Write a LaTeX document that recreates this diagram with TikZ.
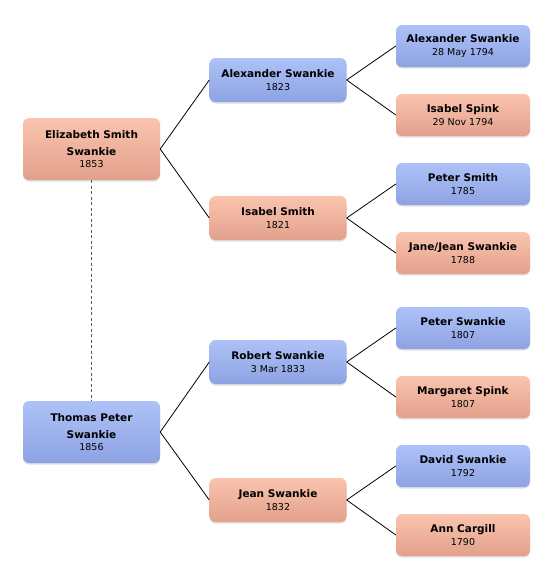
\documentclass[tikz,border=0pt]{standalone}
\usepackage{fontspec}
\setmainfont{DejaVu Sans}
\usepackage{tikz}
\usetikzlibrary{shadows}

\definecolor{maletop}{HTML}{AEC2F8}
\definecolor{malebot}{HTML}{8DA2E2}
\definecolor{femtop}{HTML}{FAC4AE}
\definecolor{fembot}{HTML}{E2A08C}

\tikzset{
  person/.style={rounded corners=6pt, minimum width=137pt, inner sep=1pt,
    align=center, font=\fontsize{10.5}{15}\selectfont,
    drop shadow={shadow xshift=0pt, shadow yshift=-1.5pt, opacity=0.25}},
  male/.style={person, top color=maletop, bottom color=malebot},
  female/.style={person, top color=femtop, bottom color=fembot},
  gen1/.style={minimum height=62pt},
  gen2/.style={minimum height=44pt},
  gen3/.style={minimum height=42pt, minimum width=134pt},
  link/.style={black, line width=0.8pt},
  couple/.style={gray!70!black, line width=0.9pt, dash pattern=on 3pt off 2.5pt}
}
\newcommand{\who}[2]{\textbf{#1}\\[-2.5pt]{\fontsize{9.5}{11}\selectfont #2}}

\begin{document}
\begin{tikzpicture}[x=1pt, y=-1pt]
    \useasboundingbox (0,0) rectangle (556,582);
    % first generation
    \node[female, gen1] (eliz) at (91.5,149) {\textbf{Elizabeth Smith}\\[1.5pt]\textbf{Swankie}\\[-3pt]{\fontsize{9.5}{11}\selectfont 1853}};
    \node[male, gen1] (thomas) at (91.5,432) {\textbf{Thomas Peter}\\[1.5pt]\textbf{Swankie}\\[-3pt]{\fontsize{9.5}{11}\selectfont 1856}};
    % parents
    \node[male, gen2] (alex) at (278,80) {\who{Alexander Swankie}{1823}};
    \node[female, gen2] (isabel) at (278,218) {\who{Isabel Smith}{1821}};
    \node[male, gen2] (robert) at (278,362) {\who{Robert Swankie}{3 Mar 1833}};
    \node[female, gen2] (jean) at (278,500) {\who{Jean Swankie}{1832}};
    % grandparents
    \node[male, gen3] (alexsr) at (463,46) {\who{Alexander Swankie}{28 May 1794}};
    \node[female, gen3] (spink) at (463,115) {\who{Isabel Spink}{29 Nov 1794}};
    \node[male, gen3] (peter) at (463,184) {\who{Peter Smith}{1785}};
    \node[female, gen3] (jane) at (463,253) {\who{Jane/Jean Swankie}{1788}};
    \node[male, gen3] (peterS) at (463,328) {\who{Peter Swankie}{1807}};
    \node[female, gen3] (margaret) at (463,397) {\who{Margaret Spink}{1807}};
    \node[male, gen3] (david) at (463,466) {\who{David Swankie}{1792}};
    \node[female, gen3] (ann) at (463,535) {\who{Ann Cargill}{1790}};
    % connectors
    \draw[couple] (eliz.south) -- (thomas.north);
    \draw[link] (eliz.east) -- (alex.west);
    \draw[link] (eliz.east) -- (isabel.west);
    \draw[link] (thomas.east) -- (robert.west);
    \draw[link] (thomas.east) -- (jean.west);
    \draw[link] (alex.east) -- (alexsr.west);
    \draw[link] (alex.east) -- (spink.west);
    \draw[link] (isabel.east) -- (peter.west);
    \draw[link] (isabel.east) -- (jane.west);
    \draw[link] (robert.east) -- (peterS.west);
    \draw[link] (robert.east) -- (margaret.west);
    \draw[link] (jean.east) -- (david.west);
    \draw[link] (jean.east) -- (ann.west);
\end{tikzpicture}
\end{document}
